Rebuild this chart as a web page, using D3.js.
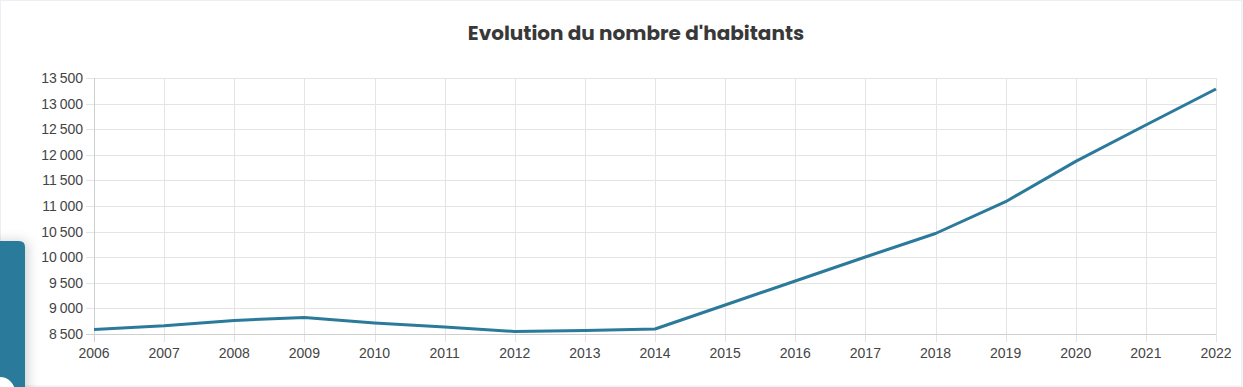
<!DOCTYPE html>
<html>
<head>
<meta charset="utf-8">
<script src="https://cdn.jsdelivr.net/npm/d3@7/dist/d3.min.js"></script>
<style>
  body { margin: 0; background: #f4f6f9; }
  svg { display: block; }
</style>
</head>
<body>
<svg width="1243" height="387"></svg>
<script>
var svg = d3.select("svg"),
    width = +svg.attr("width"),
    height = +svg.attr("height");

// data
var years = [2006, 2007, 2008, 2009, 2010, 2011, 2012, 2013, 2014,
             2015, 2016, 2017, 2018, 2019, 2020, 2021, 2022];
var habitants = [8590, 8660, 8765, 8822, 8715, 8637, 8549, 8568, 8598,
                 9066, 9535, 10004, 10463, 11084, 11872, 12582, 13285];
var yTicks = [8500, 9000, 9500, 10000, 10500, 11000, 11500, 12000, 12500, 13000, 13500];
var title = "Evolution du nombre d'habitants";

var margin = {top: 78, right: 27, bottom: 53, left: 94};
var color = "#2b7a9b";

// card background
svg.append("rect")
    .attr("x", 0.5).attr("y", 0.5)
    .attr("width", width - 2).attr("height", height - 1.5)
    .attr("fill", "#fff")
    .attr("stroke", "#eceff3");

var x = d3.scaleLinear()
    .domain(d3.extent(years))
    .range([margin.left, width - margin.right]);

var y = d3.scaleLinear()
    .domain([8500, 13500])
    .range([height - margin.bottom, margin.top]);

// grid
var grid = svg.append("g");
grid.selectAll(".hg")
  .data(yTicks)
  .enter().append("line")
    .attr("x1", margin.left - 8)
    .attr("x2", width - margin.right)
    .attr("y1", function(d) { return Math.round(y(d)) + 0.5; })
    .attr("y2", function(d) { return Math.round(y(d)) + 0.5; })
    .attr("stroke", "#e4e4e4");

grid.selectAll(".vg")
  .data(years)
  .enter().append("line")
    .attr("x1", function(d) { return Math.round(x(d)) + 0.5; })
    .attr("x2", function(d) { return Math.round(x(d)) + 0.5; })
    .attr("y1", margin.top)
    .attr("y2", height - margin.bottom + 8)
    .attr("stroke", "#e4e4e4");

// axis lines
svg.append("line")
    .attr("x1", margin.left + 0.5).attr("x2", margin.left + 0.5)
    .attr("y1", margin.top).attr("y2", height - margin.bottom + 8)
    .attr("stroke", "#cfcfcf");
svg.append("line")
    .attr("x1", margin.left - 8).attr("x2", width - margin.right)
    .attr("y1", Math.round(y(8500)) + 0.5).attr("y2", Math.round(y(8500)) + 0.5)
    .attr("stroke", "#cfcfcf");

// y labels
svg.append("g").selectAll("text")
  .data(yTicks)
  .enter().append("text")
    .attr("x", margin.left - 11)
    .attr("y", function(d) { return y(d); })
    .attr("dy", "0.36em")
    .attr("text-anchor", "end")
    .attr("font-family", "Liberation Sans, Arial, sans-serif")
    .attr("font-size", 14)
    .attr("fill", "#444")
    .text(function(d) { return d3.format(",")(d).replace(",", "\u202f"); });

// x labels
svg.append("g").selectAll("text")
  .data(years)
  .enter().append("text")
    .attr("x", function(d) { return x(d); })
    .attr("y", height - margin.bottom + 24)
    .attr("text-anchor", "middle")
    .attr("font-family", "Liberation Sans, Arial, sans-serif")
    .attr("font-size", 14)
    .attr("fill", "#444")
    .text(function(d) { return d; });

// line
var line = d3.line()
    .x(function(d, i) { return x(years[i]); })
    .y(function(d) { return y(d); });

svg.append("path")
    .datum(habitants)
    .attr("fill", "none")
    .attr("stroke", color)
    .attr("stroke-width", 3)
    .attr("stroke-linejoin", "round")
    .attr("d", line);

// title
svg.append("text")
    .attr("x", 636)
    .attr("y", 40)
    .attr("text-anchor", "middle")
    .attr("font-family", "Poppins, Inter, 'Noto Sans', sans-serif")
    .attr("font-weight", 700)
    .attr("font-size", 20)
    .attr("fill", "#383838")
    .text(title);

// side tab with shadow
var defs = svg.append("defs");
var f = defs.append("filter").attr("id", "sh").attr("x", "-50%").attr("width", "250%");
f.append("feDropShadow").attr("dx", 3).attr("dy", 0).attr("stdDeviation", 6)
    .attr("flood-color", "#000").attr("flood-opacity", 0.18);

svg.append("path")
    .attr("d", "M-10,241 H19 Q25,241 25,247 V400 H-10 Z")
    .attr("fill", color)
    .attr("filter", "url(#sh)");

svg.append("circle")
    .attr("cx", 0).attr("cy", 392).attr("r", 15)
    .attr("fill", "#fff");
</script>
</body>
</html>
